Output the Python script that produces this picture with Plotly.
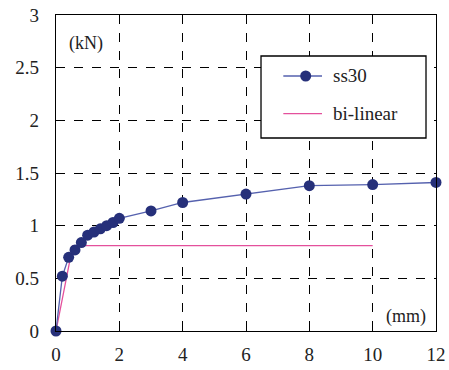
import plotly.graph_objects as go

x_ss30 = [0, 0.2, 0.4, 0.6, 0.8, 1.0, 1.2, 1.4, 1.6, 1.8, 2.0, 3, 4, 6, 8, 10, 12]
y_ss30 = [0, 0.52, 0.70, 0.77, 0.84, 0.91, 0.94, 0.97, 1.00, 1.03, 1.07, 1.14, 1.22, 1.30, 1.38, 1.39, 1.41]
x_bilin = [0, 0.53, 10]
y_bilin = [0, 0.81, 0.81]
series_names = ["ss30", "bi-linear"]

FONT = "Liberation Serif, Times New Roman, serif"
TXT = "#222222"
C_LINE = "#5561AE"
C_MARK = "#26307A"
C_PINK = "#E4509C"

fig = go.Figure()
fig.add_trace(go.Scatter(x=x_bilin, y=y_bilin, mode="lines", name=series_names[1],
                         line=dict(color=C_PINK, width=1.3), showlegend=False,
                         cliponaxis=False))
fig.add_trace(go.Scatter(x=x_ss30, y=y_ss30, mode="lines+markers", name=series_names[0],
                         line=dict(color=C_LINE, width=1.3),
                         marker=dict(color=C_MARK, size=11), showlegend=False,
                         cliponaxis=False))

axis_common = dict(showline=True, linecolor="black", linewidth=1.3, mirror=True,
                   showgrid=True, gridcolor="black", griddash="dash", gridwidth=1,
                   zeroline=False, automargin=False,
                   tickfont=dict(family=FONT, size=19, color=TXT))

# manual legend (paper coordinates)
box = dict(x0=0.5395, x1=0.9737, y0=0.6108, y1=0.8703)
rows = [0.8070, 0.6877]
lx0, lx1, mx, tx = 0.5982, 0.7000, 0.6571, 0.7229
rx, ry = 5.5 / 380, 5.5 / 316

shapes = [
    dict(type="rect", xref="paper", yref="paper", layer="above",
         fillcolor="white", line=dict(color="black", width=1.3), **box),
    dict(type="line", xref="paper", yref="paper", x0=lx0, x1=lx1, y0=rows[0], y1=rows[0],
         line=dict(color=C_LINE, width=1.3)),
    dict(type="circle", xref="paper", yref="paper", x0=mx - rx, x1=mx + rx,
         y0=rows[0] - ry, y1=rows[0] + ry, fillcolor=C_MARK, line=dict(color=C_MARK, width=0)),
    dict(type="line", xref="paper", yref="paper", x0=lx0, x1=lx1, y0=rows[1], y1=rows[1],
         line=dict(color=C_PINK, width=1.3)),
]

annotations = [
    dict(text=series_names[0], x=tx, y=rows[0], xref="paper", yref="paper", xanchor="left",
         yanchor="middle", showarrow=False, font=dict(family=FONT, size=19, color=TXT)),
    dict(text=series_names[1], x=tx, y=rows[1], xref="paper", yref="paper", xanchor="left",
         yanchor="middle", showarrow=False, font=dict(family=FONT, size=19, color=TXT)),
    dict(text="(kN)", x=0.029, y=0.911, xref="paper", yref="paper", xanchor="left",
         yanchor="middle", showarrow=False, font=dict(family=FONT, size=18, color=TXT),
         bgcolor="white", borderpad=1),
    dict(text="(mm)", x=0.98, y=0.047, xref="paper", yref="paper", xanchor="right",
         yanchor="middle", showarrow=False, font=dict(family=FONT, size=18, color=TXT),
         bgcolor="white", borderpad=1),
]

fig.update_layout(
    width=449, height=370,
    margin=dict(l=56, r=13, t=15, b=39),
    plot_bgcolor="white", paper_bgcolor="white",
    showlegend=False,
    xaxis=dict(range=[0, 12], tickvals=[0, 2, 4, 6, 8, 10, 12], ticks="inside", ticklen=6,
               tickcolor="black", ticklabelstandoff=6, **axis_common),
    yaxis=dict(range=[0, 3], tickvals=[0, 0.5, 1, 1.5, 2, 2.5, 3], ticks="",
               ticklabelstandoff=12, **axis_common),
    shapes=shapes,
    annotations=annotations,
)

fig.write_html("out.html")
